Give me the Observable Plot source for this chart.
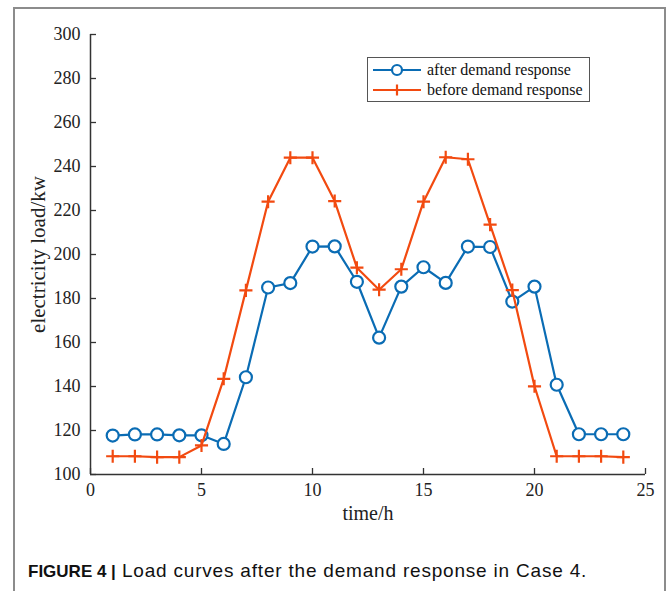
<!DOCTYPE html>
<html>
<head>
<meta charset="utf-8">
<script src="https://cdn.jsdelivr.net/npm/d3@7"></script>
<script src="https://cdn.jsdelivr.net/npm/@observablehq/plot@0.6"></script>
<style>
  html, body { margin: 0; padding: 0; background: #fff; }
  body { width: 667px; height: 591px; overflow: hidden; position: relative; }
  #frame { position: absolute; left: 13px; top: 7px; width: 653px; height: 700px; box-sizing: border-box; border: 2px solid #8c8c8c; }
  #chart { position: absolute; left: 0; top: 0; }
  #legend { position: absolute; left: 367px; top: 57px; width: 223px; height: 45px; box-sizing: border-box; border: 1.5px solid #555; background: #fff; font-family: "Liberation Serif", serif; font-size: 16px; color: #111; padding-top: 2px; }
  #legend .row { display: flex; align-items: center; height: 20px; }
  #legend svg { margin-left: 4px; margin-right: 5px; }
  #caption { position: absolute; left: 28px; top: 561px; font-family: "Liberation Sans", Arial, sans-serif; font-size: 17px; line-height: 20px; color: #111; white-space: nowrap; }
  #caption .rest { font-size: 19px; letter-spacing: 0.8px; }
</style>
</head>
<body>
<div id="frame"></div>
<div id="chart"></div>
<div id="legend"></div>
<div id="caption"><b>FIGURE 4 |</b><span class="rest"> Load curves after the demand response in Case 4.</span></div>
<script>
// ---- data ----
const hours = [1,2,3,4,5,6,7,8,9,10,11,12,13,14,15,16,17,18,19,20,21,22,23,24];
const afterDR = [117.7,118.2,118.2,117.8,117.8,113.9,144.2,185,187,203.6,203.7,187.6,162.2,185.4,194.2,187.1,203.6,203.4,178.6,185.4,140.8,118.3,118.3,118.3];
const beforeDR = [108.3,108.3,107.9,107.9,113.2,143.5,183.7,224,244,244,224.3,194,184,193.3,224,244.2,243.3,213.6,183.8,140.1,108.3,108.3,108.3,107.9];
const seriesNames = ["after demand response", "before demand response"];
const seriesColors = ["#0a6cb4", "#f24a10"];
const xTicks = [0,5,10,15,20,25];
const yTicks = [100,120,140,160,180,200,220,240,260,280,300];
const xLabel = "time/h";
const yLabel = "electricity load/kw";

const rows = [];
hours.forEach((h, i) => {
  rows.push({hour: h, load: afterDR[i], series: seriesNames[0]});
});
hours.forEach((h, i) => {
  rows.push({hour: h, load: beforeDR[i], series: seriesNames[1]});
});
const afterRows = rows.filter(d => d.series === seriesNames[0]);
const beforeRows = rows.filter(d => d.series === seriesNames[1]);

const W = 667, H = 540;
const mL = 90, mR = 22, mT = 34, mB = 66;
const innerW = W - mL - mR, innerH = H - mT - mB;
const tickLen = 6;
const axisColor = "#333";

const chart = Plot.plot({
  width: W,
  height: H,
  marginLeft: mL,
  marginRight: mR,
  marginTop: mT,
  marginBottom: mB,
  style: { fontFamily: "Liberation Serif, serif", fontSize: "18px", color: "#222", background: "transparent" },
  x: { domain: [0, 25] },
  y: { domain: [100, 300] },
  marks: [
    Plot.axisX({ ticks: xTicks, tickSize: 0, tickPadding: 9, label: null, fontSize: 18 }),
    Plot.axisY({ ticks: yTicks, tickSize: 0, tickPadding: 10, label: null, fontSize: 18 }),
    Plot.text([xLabel], { frameAnchor: "bottom", dy: 45, fontSize: 20, text: d => d, fill: "#222" }),
    Plot.text([yLabel], { frameAnchor: "left", textAnchor: "middle", dx: -52, rotate: -90, fontSize: 21, text: d => d, fill: "#222" }),
    Plot.tickX(xTicks, { x: d => d, insetTop: innerH - tickLen, stroke: axisColor, strokeWidth: 1.3 }),
    Plot.tickY(yTicks, { y: d => d, insetRight: innerW - tickLen, stroke: axisColor, strokeWidth: 1.3 }),
    Plot.ruleX([0], { stroke: axisColor, strokeWidth: 1.5 }),
    Plot.ruleY([100], { stroke: axisColor, strokeWidth: 1.5 }),
    Plot.line(afterRows, { x: "hour", y: "load", stroke: seriesColors[0], strokeWidth: 2.2 }),
    Plot.dot(afterRows, { x: "hour", y: "load", r: 6, symbol: "circle", stroke: seriesColors[0], fill: "white", strokeWidth: 2.2 }),
    Plot.line(beforeRows, { x: "hour", y: "load", stroke: seriesColors[1], strokeWidth: 2.2 }),
    Plot.dot(beforeRows, { x: "hour", y: "load", r: 4.3, symbol: "plus", stroke: seriesColors[1], strokeWidth: 2.2 })
  ]
});
document.getElementById("chart").appendChild(chart);

// legend
const legend = d3.select("#legend");
seriesNames.forEach((name, i) => {
  const row = legend.append("div").attr("class", "row");
  const svg = row.append("svg").attr("width", 50).attr("height", 16);
  svg.append("line").attr("x1", 1).attr("x2", 49).attr("y1", 8).attr("y2", 8)
     .attr("stroke", seriesColors[i]).attr("stroke-width", 2.2);
  if (i === 0) {
    svg.append("circle").attr("cx", 25).attr("cy", 8).attr("r", 5)
       .attr("fill", "white").attr("stroke", seriesColors[i]).attr("stroke-width", 2.2);
  } else {
    svg.append("path").attr("d", "M25,2.5V13.5M19.5,8H30.5")
       .attr("stroke", seriesColors[i]).attr("stroke-width", 2.2).attr("fill", "none");
  }
  row.append("span").text(name);
});
</script>
</body>
</html>
